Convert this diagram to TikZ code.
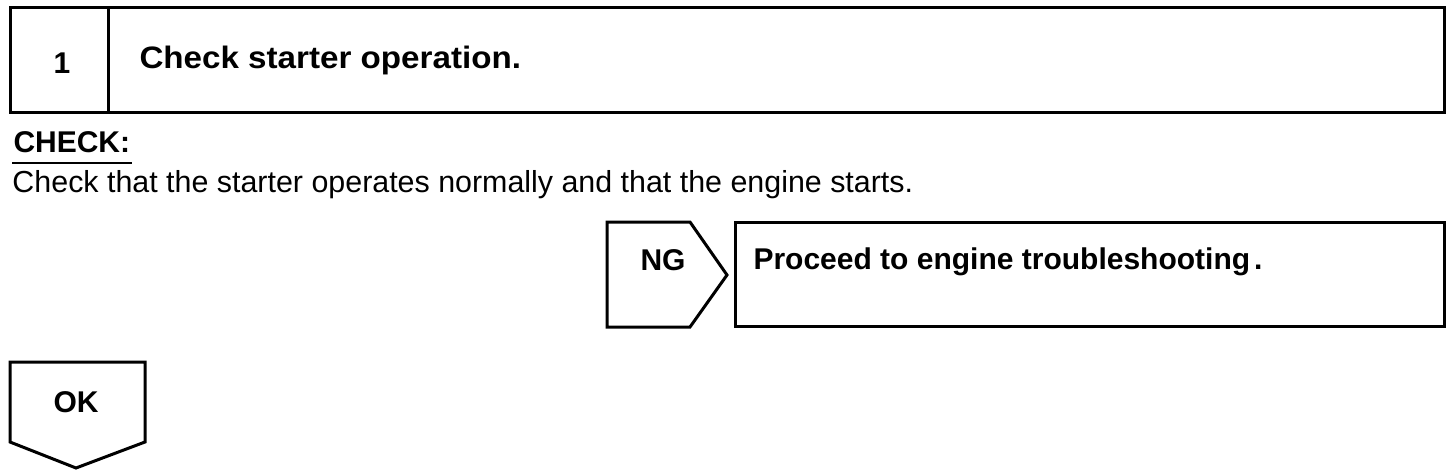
\documentclass[tikz,border=0pt]{standalone}
\usepackage{fontspec}
\setmainfont{Liberation Sans}
\begin{document}
\begin{tikzpicture}[x=1pt,y=-1pt,line width=3pt,line join=miter,
  outl/.style={draw=black,line width=3pt},
  txt/.style={anchor=base west,inner sep=0pt,font=\fontsize{30.4}{36}\selectfont},
  btxt/.style={anchor=base west,inner sep=0pt,font=\fontsize{30}{36}\selectfont\bfseries},
  ctr/.style={inner sep=0pt,font=\fontsize{30}{36}\selectfont\bfseries}]
\useasboundingbox (0,0) rectangle (1456,476);
% header box
\draw[outl] (10,8) rectangle (1444,113);
\draw[outl] (108,8) -- (108,113);
\node[ctr] (num) at (62,63) {1};
\node[btxt,font=\fontsize{31}{36}\selectfont\bfseries] (title) at (138,69) {\scalebox{1.07}[1]{Check starter operation.}};
% check text
\node[btxt] (check) at (12,153) {CHECK:};
\draw[line width=2.5pt] ([yshift=-10pt]check.base west) -- ([yshift=-10pt]check.base east);
\node[txt] (body) at (11,192) {Check that the starter operates normally and that the engine starts.};
% NG branch
\draw[outl] (607,222) -- (690,222) -- (727,275) -- (690,327) -- (607,327) -- cycle;
\node[ctr] (ng) at (663,260) {NG};
\draw[outl] (735,222) rectangle (1444,326);
\node[btxt] (proc) at (752,269) {Proceed to engine troubleshooting\kern4pt.};
% OK branch
\draw[outl] (10,362) -- (145,362) -- (145,442) -- (76,468) -- (10,442) -- cycle;
\node[ctr] (ok) at (76,402) {OK};
\end{tikzpicture}
\end{document}
